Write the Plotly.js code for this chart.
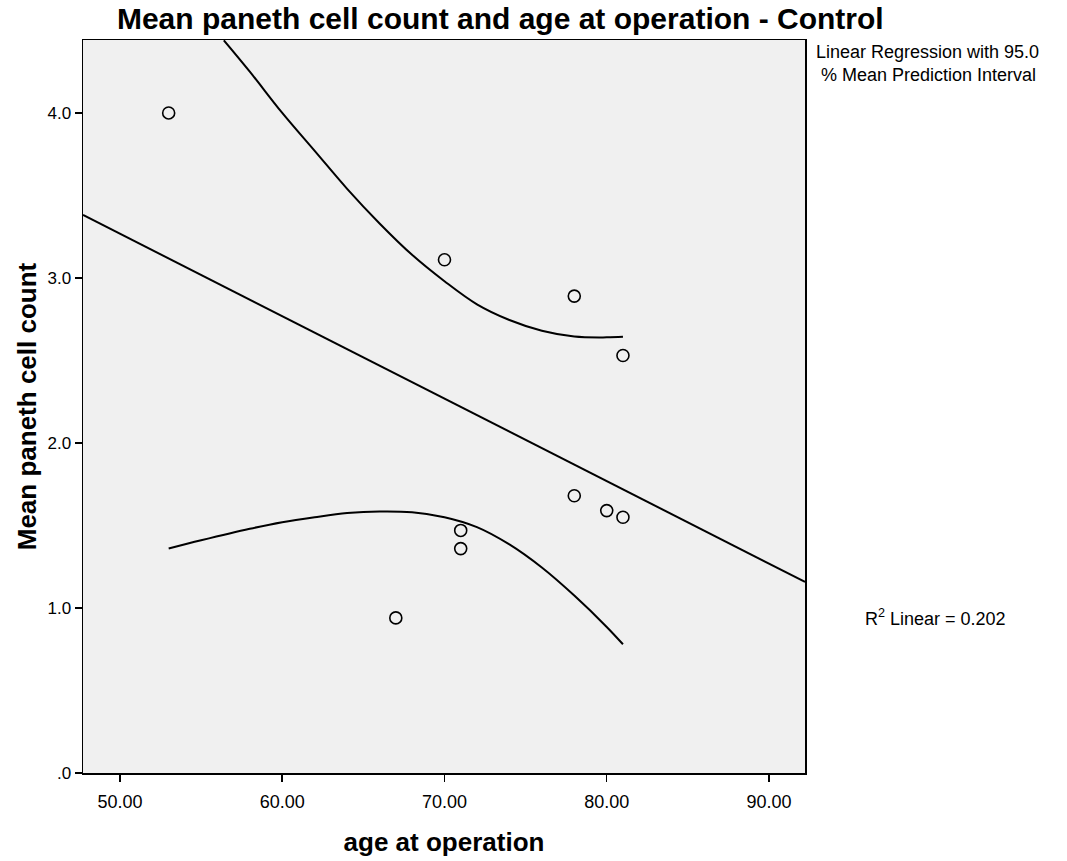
<!DOCTYPE html>
<html>
<head>
<meta charset="utf-8">
<script src="https://cdn.plot.ly/plotly-3.0.1.min.js"></script>
<style>html,body{margin:0;padding:0;background:#fff;}</style>
</head>
<body>
<div id="chart" style="width:1067px;height:861px;"></div>
<script>
// Observed data
var ageAtOperation = [53, 70, 78, 81, 78, 80, 81, 71, 71, 67];
var panethCount = [4.00, 3.11, 2.89, 2.53, 1.68, 1.59, 1.55, 1.47, 1.36, 0.94];

// Fit line (at the axis edges)
var fitX = [47.72, 92.22];
var fitY = [3.382, 1.158];

// 95% mean prediction interval, upper curve
var upperX = [56.4, 58, 60, 62, 64, 66, 68, 70, 72, 74, 76, 78, 80, 81];
var upperY = [4.44, 4.25, 4.00, 3.77, 3.54, 3.33, 3.14, 2.98, 2.84, 2.745, 2.68, 2.645, 2.64, 2.643];

// lower curve
var lowerX = [53, 55, 58, 60, 62, 64, 66, 68, 70, 72, 74, 76, 78, 80, 81];
var lowerY = [1.36, 1.41, 1.48, 1.52, 1.55, 1.575, 1.585, 1.58, 1.55, 1.49, 1.385, 1.245, 1.075, 0.885, 0.78];

// Axis ticks
var xTicks = [50, 60, 70, 80, 90];
var xTickLabels = ["50.00", "60.00", "70.00", "80.00", "90.00"];
var yTicks = [0, 1, 2, 3, 4];
var yTickLabels = [".0", "1.0", "2.0", "3.0", "4.0"];

var lineStyle = {color: '#000', width: 2, shape: 'spline', smoothing: 1};

var traces = [
  {x: fitX, y: fitY, mode: 'lines', line: {color: '#000', width: 2}},
  {x: upperX, y: upperY, mode: 'lines', line: lineStyle},
  {x: lowerX, y: lowerY, mode: 'lines', line: lineStyle},
  {x: ageAtOperation, y: panethCount, mode: 'markers',
   marker: {symbol: 'circle-open', size: 12, color: '#000', line: {color: '#000', width: 1.6}}}
];

var font = "Liberation Sans, Arial, sans-serif";

var layout = {
  width: 1067, height: 861,
  margin: {l: 83, r: 262, t: 40, b: 88},
  paper_bgcolor: '#ffffff',
  plot_bgcolor: '#f0f0f0',
  showlegend: false,
  font: {family: font, color: '#000', size: 16},
  title: {
    text: '<b>Mean paneth cell count and age at operation - Control</b>',
    font: {family: font, size: 30, color: '#000'},
    x: 0.578, xanchor: 'center', xref: 'paper',
    y: 0.979, yanchor: 'middle', yref: 'container'
  },
  xaxis: {
    range: [47.72, 92.22],
    tickvals: xTicks, ticktext: xTickLabels,
    ticks: 'outside', ticklen: 7, tickwidth: 1.5, tickcolor: '#000',
    ticklabelstandoff: 5,
    showgrid: false, zeroline: false,
    showline: true, linecolor: '#000', linewidth: 1.5, mirror: true,
    tickfont: {family: font, size: 18, color: '#000'},
    title: {text: '<b>age at operation</b>', font: {family: font, size: 26, color: '#000'}, standoff: 21}
  },
  yaxis: {
    range: [0, 4.442],
    tickvals: yTicks, ticktext: yTickLabels,
    ticks: 'outside', ticklen: 7, tickwidth: 1.5, tickcolor: '#000',
    showgrid: false, zeroline: false,
    showline: true, linecolor: '#000', linewidth: 1.5, mirror: true,
    tickfont: {family: font, size: 17, color: '#000'},
    title: {text: '<b>Mean paneth cell count</b>', font: {family: font, size: 26, color: '#000'}, standoff: 3}
  },
  annotations: [
    {xref: 'paper', yref: 'paper', x: 1.012, y: 1.0, xanchor: 'left', yanchor: 'top', align: 'left',
     showarrow: false, font: {family: font, size: 18, color: '#000'},
     text: 'Linear Regression with 95.0<br> % Mean Prediction Interval'},
    {xref: 'paper', yref: 'y', x: 1.08, y: 0.94, xanchor: 'left', yanchor: 'middle',
     showarrow: false, font: {family: font, size: 18, color: '#000'},
     text: 'R<sup>2</sup> Linear = 0.202'}
  ]
};

Plotly.newPlot('chart', traces, layout, {displayModeBar: false, staticPlot: true});
</script>
</body>
</html>
